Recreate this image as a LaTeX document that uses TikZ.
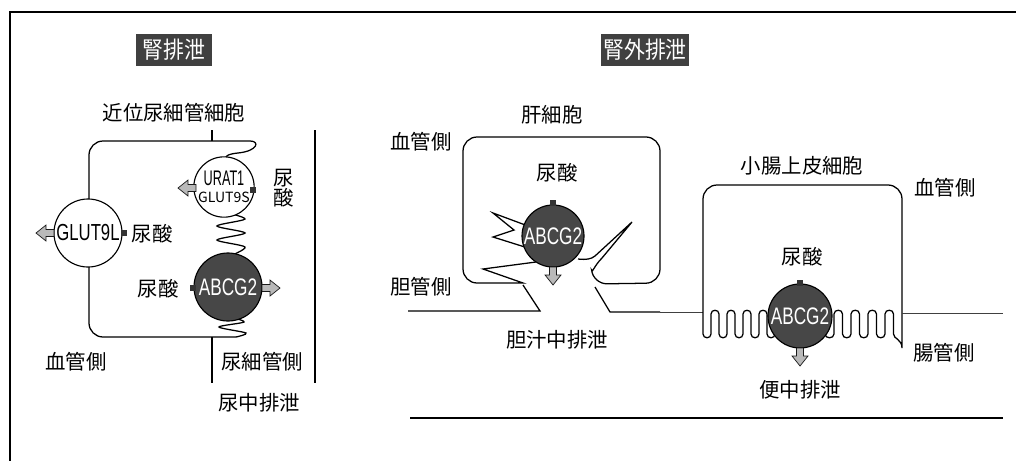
\documentclass[tikz,border=0pt]{standalone}
\usepackage{fontspec}
\setmainfont{Noto Sans CJK JP}
\newfontfamily\headfont[FakeStretch=0.9]{Noto Sans CJK JP}
\newfontfamily\latinfont[FakeStretch=0.72]{Liberation Sans}
\newfontfamily\tightfont[FakeStretch=0.6]{Liberation Sans}
\usepackage{tikz}

\newcommand\fatarrow[2]{%
  \draw[arrowbody,shift={#1},rotate=#2] (0,-3.5) -- (8,-3.5) -- (8,-8) -- (18,0) -- (8,8) -- (8,3.5) -- (0,3.5) -- cycle;}

\begin{document}
\begin{tikzpicture}[x=0.025cm,y=-0.025cm,
    membrane/.style={line width=0.9pt},
    thinline/.style={line width=0.6pt,black!75},
    txt/.style={font=\fontsize{14.5}{12}\selectfont,inner sep=0},
    heading/.style={fill=black!75,text=white,font=\headfont\fontsize{16.5}{16}\selectfont,inner xsep=0.05cm,minimum height=0.8cm},
    transporter/.style={circle,draw,fill=white,line width=0.8pt,inner sep=0},
    pump/.style={circle,draw,fill=black!72,text=white,line width=0.8pt,inner sep=0},
    port/.style={fill=black!80,minimum size=0.15cm,inner sep=0},
    arrowbody/.style={fill=gray!55,draw=black!90,line width=0.5pt}]
    \useasboundingbox (0,0) rectangle (1016,461);
    \draw[line width=1.3pt] (1016,12) -- (10,12) -- (10,461);

    \node[heading,minimum width=1.9cm] (renal) at (174,50) {腎排泄};
    \node[heading] (extrarenal) at (645,50) {腎外排泄};

    \draw[membrane] (212,130) -- (212,141);
    \draw[membrane] (89,200) [rounded corners=10] -- (89,141) -- (236,141) [sharp corners]
        .. controls (260,141) and (258,151) .. (238,153) .. controls (228,154) and (224,156) .. (224,162);
    \draw[membrane] plot[smooth] coordinates {(224,212) (245,219) (217,226) (245,233) (217,240) (245,247) (230,256)};
    \draw[membrane] (89,267) [rounded corners=10] -- (89,337) -- (236,337);
    \draw[membrane] plot[smooth] coordinates {(236,337) (246,333) (219,327) (244,322) (230,317)};
    \draw[membrane] (212,337) -- (212,383);
    \draw[membrane] (315,130) -- (315,383);

    \node[transporter,minimum size=1.7cm] (glut9l) at (88,233) {\latinfont\fontsize{16.5}{16}\selectfont GLUT9L};
    \fatarrow{(54,233)}{180}
    \node[port] (glut9lin) at (124,233) {};
    \node[txt] (uaglut) at (152,234) {尿酸};

    \node[transporter,minimum size=1.42cm,align=center] (urat1) at (224,187)
        {\tightfont\fontsize{15}{13}\selectfont URAT1\\GLUT9S};
    \fatarrow{(196,188)}{180}
    \node[port] (urat1in) at (253,190) {};
    \node[txt,align=center] (uaurat) at (284,188) {尿\\酸};

    \node[pump,minimum size=1.7cm] (abcgkid) at (228,287) {\latinfont\fontsize{17}{17}\selectfont ABCG2};
    \node[port] (abcgkidin) at (193,288) {};
    \fatarrow{(262,288)}{0}
    \node[txt] (uaabcg) at (158,289) {尿酸};

    \node[txt] (pt) at (174,113) {近位尿細管細胞};
    \node[txt] (bloodk) at (76,362) {血管側};
    \node[txt] (lumenk) at (262,362) {尿細管側};
    \node[txt] (urine) at (259,403) {尿中排泄};

    \draw[membrane] (536,262) -- (483,269) -- (523,283) [rounded corners=10] -- (463,283) -- (463,137)
        -- (660,137) -- (660,283) -- (593,284) [sharp corners]
        .. controls (592,274) and (594,266) .. (602,258) -- (632,222) -- (595,256)
        .. controls (591,259) and (587,260) .. (578,259);
    \draw[membrane] (528,248) -- (493,237) -- (514,230) -- (493,213) -- (528,226);
    \draw[membrane] (408,311) -- (540,311) -- (523,285);
    \draw[membrane] (595,287) -- (610,312) -- (660,312);
    \draw[thinline] (660,312) -- (703,312);

    \node[pump,minimum size=1.55cm] (abcgliv) at (553,236) {\latinfont\fontsize{17}{17}\selectfont ABCG2};
    \node[port] (abcglivin) at (553,203) {};
    \fatarrow{(553,267)}{-90}
    \node[txt] (hep) at (552,115) {肝細胞};
    \node[txt] (bloodl) at (421,142) {血管側};
    \node[txt] (ualiv) at (557,173) {尿酸};
    \node[txt] (bileside) at (421,287) {胆管側};
    \node[txt] (bile) at (557,340) {胆汁中排泄};

    \draw[membrane] (775,334)
        \foreach \i in {1,...,4} {
            .. controls +(0,5) and +(0,5) .. ++(-8,0) -- ++(0,-20)
            .. controls +(0,-5) and +(0,-5) .. ++(-8,0) -- ++(0,20)}
        .. controls +(0,5) and +(0,5) .. ++(-8,0)
        [rounded corners=10] -- (703,185) -- (902,185) -- (902,334) [sharp corners]
        \foreach \i in {1,...,4} {
            .. controls +(0,5) and +(0,5) .. ++(-8.5,0) -- ++(0,-20)
            .. controls +(0,-5) and +(0,-5) .. ++(-8.5,0) -- ++(0,20)}
        .. controls +(0,5) and +(0,5) .. ++(-9,0);
    \draw[thinline] (902,313) -- (1003,313);
    \draw[membrane] (410,418) -- (1003,418);

    \node[pump,minimum size=1.6cm] (abcgint) at (800,316) {\latinfont\fontsize{17}{17}\selectfont ABCG2};
    \node[port] (abcgintin) at (800,283) {};
    \fatarrow{(800,348)}{-90}
    \node[txt] (ent) at (802,166) {小腸上皮細胞};
    \node[txt] (bloodi) at (945,188) {血管側};
    \node[txt] (uaint) at (802,257) {尿酸};
    \node[txt] (gut) at (944,353) {腸管側};
    \node[txt] (feces) at (800,390) {便中排泄};
\end{tikzpicture}
\end{document}
